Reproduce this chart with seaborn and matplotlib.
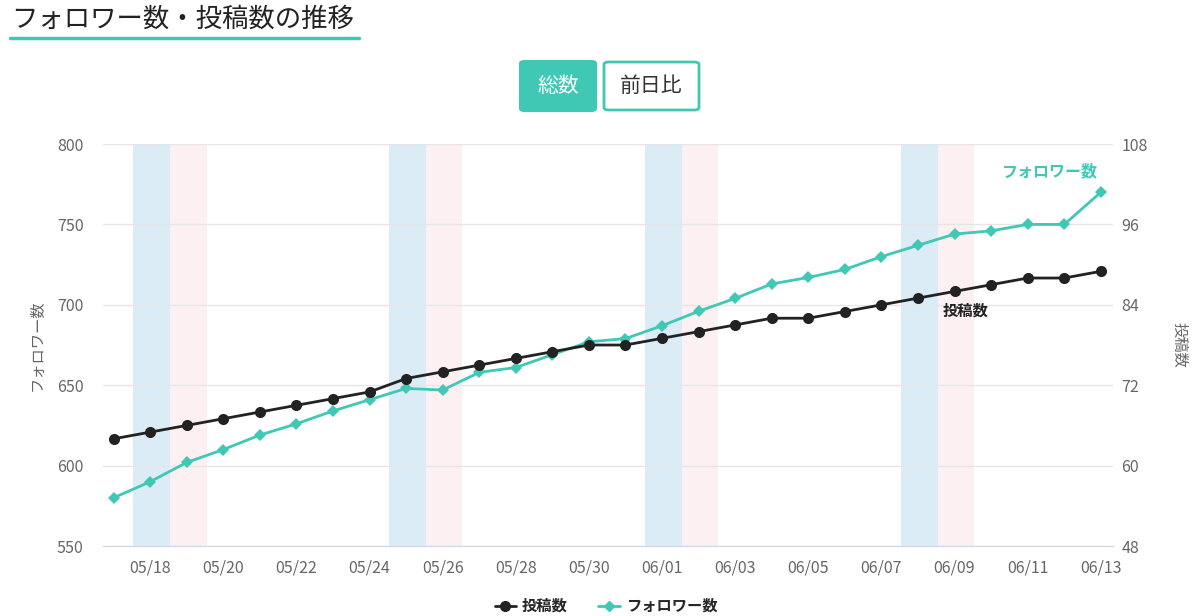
import pandas as pd
import seaborn as sns
import matplotlib.pyplot as plt
import matplotlib.dates as mdates
from matplotlib.patches import FancyBboxPatch
from matplotlib.lines import Line2D

# data
dates = pd.date_range("2024-05-17", "2024-06-13", freq="D")
followers = [580, 590, 602, 610, 619, 626, 634, 641, 648, 647, 658, 661, 669, 677,
             679, 687, 696, 704, 713, 717, 722, 730, 737, 744, 746, 750, 750, 770]
posts = [64, 65, 66, 67, 68, 69, 70, 71, 73, 74, 75, 76, 77, 78,
         78, 79, 80, 81, 82, 82, 83, 84, 85, 86, 87, 88, 88, 89]
saturdays = ["2024-05-18", "2024-05-25", "2024-06-01", "2024-06-08"]
sundays = ["2024-05-19", "2024-05-26", "2024-06-02", "2024-06-09"]
left_ticks = [550, 600, 650, 700, 750, 800]
right_ticks = [48, 60, 72, 84, 96, 108]

df = pd.DataFrame({"date": dates, "followers": followers, "posts": posts})

TEAL = "#3fc8b4"
DARK = "#222222"

sns.set_style("white")
plt.rcParams['font.family'] = ['Noto Sans CJK JP', 'DejaVu Sans']

fig = plt.figure(figsize=(12, 6.16), dpi=100)
ax = fig.add_axes([0.0858, 0.1136, 0.8417, 0.6526])
ax2 = ax.twinx()

# weekend bands (slightly shifted right like the original)
half = pd.Timedelta(hours=12)
shift = pd.Timedelta(hours=1)
for d in saturdays:
    d = pd.Timestamp(d) + shift
    ax.axvspan(d - half, d + half, color="#dbecf7", lw=0, zorder=0)
for d in sundays:
    d = pd.Timestamp(d) + shift
    ax.axvspan(d - half, d + half, color="#fdf0f3", lw=0, zorder=0)

sns.lineplot(data=df, x="date", y="followers", ax=ax, color=TEAL, lw=2,
             marker="D", markersize=6, markeredgewidth=0, zorder=3)
sns.lineplot(data=df, x="date", y="posts", ax=ax2, color=DARK, lw=2,
             marker="o", markersize=8, markeredgewidth=0, zorder=3)

ax.set_ylim(550, 800)
ax2.set_ylim(48, 108)
ax.set_yticks(left_ticks)
ax2.set_yticks(right_ticks)
ax.set_xlim(pd.Timestamp("2024-05-17") - pd.Timedelta(hours=7),
            pd.Timestamp("2024-06-13") + pd.Timedelta(hours=8))
ax.xaxis.set_major_locator(mdates.DayLocator(bymonthday=[18, 20, 22, 24, 26, 28, 30, 1, 3, 5, 7, 9, 11, 13]))
ax.xaxis.set_major_formatter(mdates.DateFormatter("%m/%d"))

ax.grid(axis="y", color="#e6e6e6", lw=1)
ax.set_axisbelow(True)
for a in (ax, ax2):
    for s in a.spines.values():
        s.set_visible(False)
ax.spines["bottom"].set_visible(True)
ax.spines["bottom"].set_color("#ccd6eb")
ax.tick_params(axis="x", colors="#ccd6eb", length=8, width=1, labelcolor="#666666", labelsize=11.5, pad=2)
ax.tick_params(axis="y", length=0, labelcolor="#666666", labelsize=11.5, pad=14)
ax2.tick_params(axis="y", length=0, labelcolor="#666666", labelsize=11.5, pad=6)
ax.set_xlabel("")
ax.set_ylabel("フォロワー数", color="#666666", fontsize=11, labelpad=8)
ax2.set_ylabel("投稿数", color="#666666", fontsize=11, rotation=270, labelpad=29)

# end labels
ax.text(df["date"].iloc[-1] - pd.Timedelta(hours=2), 783, "フォロワー数", color=TEAL,
        fontsize=11.5, fontweight="bold", ha="right", va="center")
ax2.text(pd.Timestamp("2024-06-09") + pd.Timedelta(hours=7), 83.2, "投稿数", color=DARK,
         fontsize=11, fontweight="bold", ha="center", va="center")

# title and underline
fig.text(11 / 1200, 1 - 19 / 616, "フォロワー数・投稿数の推移", fontsize=19, color="#222222",
         ha="left", va="center")
fig.add_artist(Line2D([10 / 1200, 359 / 1200], [1 - 38 / 616, 1 - 38 / 616],
                      color=TEAL, lw=2.5, transform=fig.transFigure))

# toggle buttons
btn1 = FancyBboxPatch((520 / 1200, 1 - 111 / 616), 76 / 1200, 50 / 616,
                      boxstyle="round,pad=0,rounding_size=0.004", transform=fig.transFigure,
                      facecolor=TEAL, edgecolor=TEAL, lw=1.5)
btn2 = FancyBboxPatch((604 / 1200, 1 - 110 / 616), 95 / 1200, 48 / 616,
                      boxstyle="round,pad=0,rounding_size=0.004", transform=fig.transFigure,
                      facecolor="white", edgecolor=TEAL, lw=2)
fig.add_artist(btn1)
fig.add_artist(btn2)
fig.text(558 / 1200, 1 - 86 / 616, "総数", color="white", fontsize=15, ha="center", va="center")
fig.text(651 / 1200, 1 - 86 / 616, "前日比", color="#333333", fontsize=15, ha="center", va="center")

# legend
handles = [Line2D([], [], color=DARK, lw=2, marker="o", markersize=7),
           Line2D([], [], color=TEAL, lw=2, marker="D", markersize=5)]
fig.legend(handles, ["投稿数", "フォロワー数"], loc="center", bbox_to_anchor=(0.505, 1 - 606 / 616),
           ncol=2, frameon=False, handlelength=1.4, handletextpad=0.4, columnspacing=2,
           prop={"size": 11, "weight": "bold"})

fig.savefig("out.png", dpi=100)
